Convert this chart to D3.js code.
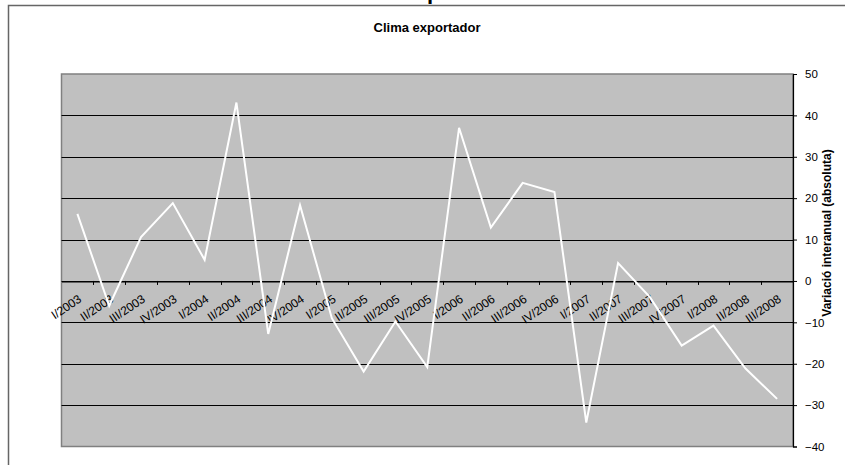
<!DOCTYPE html>
<html>
<head>
<meta charset="utf-8">
<script src="https://cdn.jsdelivr.net/npm/d3@7/dist/d3.min.js"></script>
<style>
  html, body { margin: 0; padding: 0; background: #fff; }
  svg { display: block; font-family: Arial, "Liberation Sans", sans-serif; }
</style>
</head>
<body>
<svg id="chart" width="845" height="465"></svg>
<script>
const categories = ["I/2003","II/2003","III/2003","IV/2003","I/2004","II/2004","III/2004","IV/2004",
  "I/2005","II/2005","III/2005","IV/2005","I/2006","II/2006","III/2006","IV/2006",
  "I/2007","II/2007","III/2007","IV/2007","I/2008","II/2008","III/2008"];
const values = [16.2, -6, 10.6, 18.8, 5.1, 43.1, -12.8, 18.3, -9, -21.9, -9.8, -20.8,
  37, 12.9, 23.7, 21.5, -34.2, 4.3, -3.9, -15.6, -10.8, -21.1, -28.5];
const yTicks = [50, 40, 30, 20, 10, 0, -10, -20, -30, -40];
const chartTitle = "Clima exportador";
const axisTitle = "Variació interanual (absoluta)";

const svg = d3.select("#chart");
const pLeft = 61.5, pRight = 793, pTop = 74, pBottom = 446.5;

// outer frame
svg.append("path").attr("d", `M8.5,465 V5.5 H845`).attr("fill", "none")
  .attr("stroke", "#666").attr("stroke-width", 1.5);

// cut-off big title above (only its descender shows, as in the reference)
svg.append("text").attr("x", 427).attr("y", -1).attr("text-anchor", "middle")
  .attr("font-size", 22).attr("font-weight", "bold").attr("fill", "#000").text(chartTitle);

const x = d3.scaleBand().domain(categories).range([pLeft, pRight]).padding(0);
const y = d3.scaleLinear().domain([-40, 50]).range([pBottom, pTop]);

// plot area
svg.append("rect").attr("x", pLeft).attr("y", pTop).attr("width", pRight - pLeft).attr("height", pBottom - pTop)
  .attr("fill", "#c0c0c0").attr("stroke", "#808080").attr("stroke-width", 1.5);

// gridlines
svg.append("g").selectAll("line").data(yTicks.filter(d => d !== 50 && d !== -40)).join("line")
  .attr("x1", pLeft).attr("x2", pRight)
  .attr("y1", d => Math.round(y(d)) + 0.5).attr("y2", d => Math.round(y(d)) + 0.5)
  .attr("stroke", "#000").attr("stroke-width", 1);

// right axis
const yAxis = d3.axisRight(y).tickValues(yTicks).tickSize(4).tickPadding(8).tickFormat(d3.format("d"));
const gy = svg.append("g").attr("transform", `translate(${pRight},0)`).call(yAxis);
gy.select(".domain").attr("stroke", "#000").attr("stroke-width", 1.2);
gy.selectAll(".tick line").attr("stroke", "#000");
gy.selectAll("text").attr("font-size", 11.5).attr("font-family", "Arial, 'Liberation Sans', sans-serif").attr("fill", "#000");

// x axis at zero
const xAxis = d3.axisBottom(x).tickSize(0).tickFormat("");
const gx = svg.append("g").attr("transform", `translate(0,${Math.round(y(0)) + 0.5})`).call(xAxis);
gx.select(".domain").attr("stroke", "#000").attr("stroke-width", 1);
// tick marks at band boundaries
const bounds = categories.map(c => x(c)).concat([pRight]);
svg.append("g").selectAll("line").data(bounds.slice(1, -1)).join("line")
  .attr("x1", d => Math.round(d) + 0.5).attr("x2", d => Math.round(d) + 0.5)
  .attr("y1", y(0)).attr("y2", y(0) + 4).attr("stroke", "#000");

// category labels
svg.append("g").selectAll("text").data(categories).join("text")
  .attr("text-anchor", "end")
  .attr("font-size", 12)
  .attr("fill", "#000")
  .attr("transform", d => `translate(${x(d) + x.bandwidth() / 2 + 5},${y(0) + 20}) rotate(-34)`)
  .text(d => d);

// line
const line = d3.line().x((d, i) => x(categories[i]) + x.bandwidth() / 2).y(d => y(d));
svg.append("path").datum(values).attr("d", line).attr("fill", "none")
  .attr("stroke", "#fff").attr("stroke-width", 2).attr("stroke-linejoin", "miter");

// titles
svg.append("text").attr("x", 427).attr("y", 32).attr("text-anchor", "middle")
  .attr("font-size", 13).attr("font-weight", "bold").text(chartTitle);
svg.append("text").attr("transform", `translate(831,233) rotate(-90)`).attr("text-anchor", "middle")
  .attr("font-size", 12).attr("font-weight", "bold").text(axisTitle);
</script>
</body>
</html>
